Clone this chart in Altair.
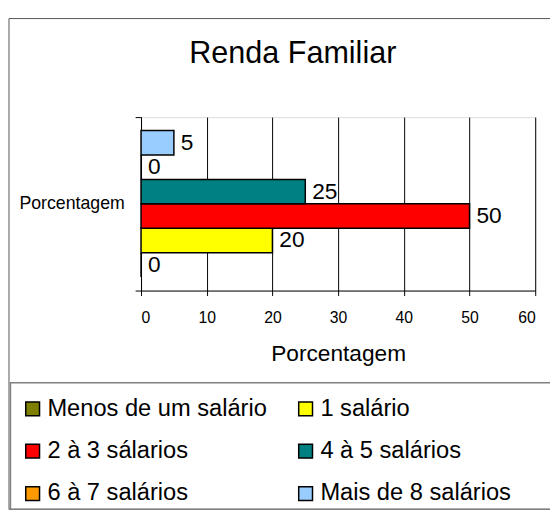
import altair as alt
import pandas as pd

categories = ["Menos de um salário", "1 salário", "2 à 3 sálarios",
              "4 à 5 salários", "6 à 7 salários", "Mais de 8 salários"]
values = [0, 20, 50, 25, 0, 5]
colors = ["#808000", "#FFFF00", "#FF0000", "#008080", "#FF9900", "#99CCFF"]
group = "Porcentagem"
x_ticks = [0, 10, 20, 30, 40, 50, 60]

FONT = "Liberation Sans"

df = pd.DataFrame({"grupo": [group] * len(categories), "serie": categories, "valor": values})
one = pd.DataFrame({"k": [0]})

base = alt.Chart(df).encode(
    y=alt.Y("grupo:N", title=None,
            scale=alt.Scale(paddingInner=0, paddingOuter=0),
            axis=alt.Axis(domainColor="black", tickColor="black", tickBand="extent",
                          tickSize=6, labelFontSize=18, labelFont=FONT, labelColor="black",
                          labelPadding=11, grid=False)),
    yOffset=alt.YOffset("serie:N", sort=list(reversed(categories)),
                        scale=alt.Scale(paddingOuter=0.55, paddingInner=0)),
    x=alt.X("valor:Q", title="Porcentagem",
            scale=alt.Scale(domain=[0, 60], nice=False),
            axis=alt.Axis(values=x_ticks, grid=True, gridColor="black", gridOpacity=1,
                          gridWidth=1, domainColor="black", tickColor="black", tickSize=5,
                          labelFontSize=16, labelFont=FONT, labelColor="black",
                          labelPadding=14, titleFontSize=23, titleFont=FONT,
                          titleFontWeight="normal", titleColor="black", titlePadding=18)),
)

bars = base.mark_bar(stroke="black", strokeWidth=1.5).encode(
    color=alt.Color("serie:N", scale=alt.Scale(domain=categories, range=colors),
                    legend=alt.Legend(title=None, orient="none", legendX=-122, legendY=284,
                                      columns=2, direction="horizontal",
                                      symbolType="square", symbolSize=196,
                                      symbolStrokeColor="black", symbolStrokeWidth=1.5,
                                      symbolOpacity=1, labelFontSize=24, labelFont=FONT,
                                      labelColor="black", labelOffset=3, labelLimit=400,
                                      rowPadding=19, columnPadding=27, padding=0))
)

labels = base.mark_text(align="left", baseline="middle", dx=7, fontSize=23,
                        font=FONT, color="black").encode(text="valor:Q")

outer = alt.Chart(one).mark_rect(fill="transparent", stroke="#555555", strokeWidth=1).encode(
    x=alt.value(-134), x2=alt.value(430), y=alt.value(-100), y2=alt.value(398))
legend_box = alt.Chart(one).mark_rect(fill="transparent", stroke="#808080", strokeWidth=1.5).encode(
    x=alt.value(-132.5), x2=alt.value(430), y=alt.value(269.5), y2=alt.value(398))

chart = alt.layer(outer, legend_box, bars, labels).properties(
    width=400, height=176,
    autosize="none",
    padding={"left": 135, "top": 107, "right": 15, "bottom": 222},
    title=alt.TitleParams("Renda Familiar", fontSize=31, font=FONT, fontWeight="normal",
                          color="black", anchor="middle", frame="group", dx=-46,
                          baseline="alphabetic", offset=-77),
).configure_view(stroke="transparent").configure(background="white")

chart.save("out.html", embed_options={"renderer": "svg", "actions": False})
